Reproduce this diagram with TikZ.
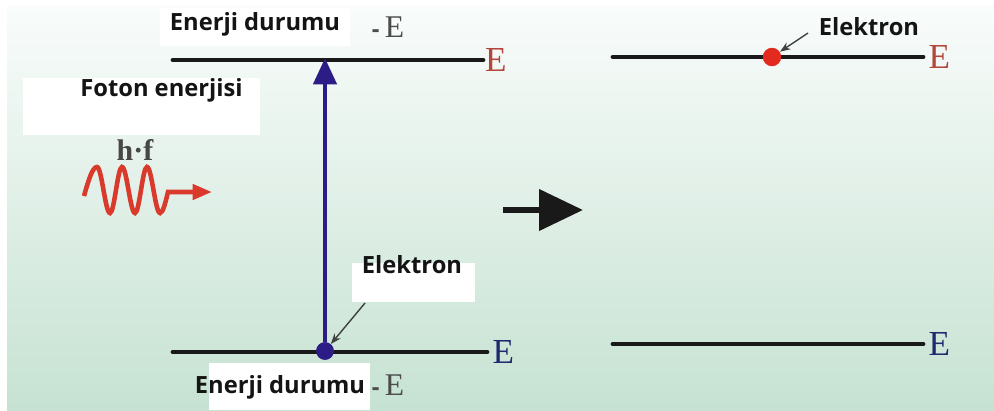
\documentclass[tikz,border=0pt]{standalone}
\usepackage{fontspec}
\setmainfont{Liberation Serif}
\newfontfamily\labelfont{Open Sans}
\usepackage{tikz}
\usetikzlibrary{arrows.meta,positioning}
\definecolor{bgtop}{HTML}{F9FCFB}
\definecolor{bgmid}{HTML}{E2F1E9}
\definecolor{bgbot}{HTML}{C6E2D2}
\definecolor{levred}{HTML}{B5473A}
\definecolor{dotred}{HTML}{E22A1F}
\definecolor{wavered}{HTML}{D93A2B}
\definecolor{navy}{HTML}{2C1C86}
\definecolor{levblue}{HTML}{1F2A6E}

\tikzset{
  level/.style={line width=2.8pt,black!90,line cap=round},
  lbl/.style={font=\labelfont\bfseries\fontsize{13.5}{15}\selectfont,text=black!92,inner sep=0pt},
  elbl/.style={font=\fontsize{20}{22}\selectfont,inner sep=0pt,anchor=west},
  dashlbl/.style={font=\fontsize{18}{20}\selectfont,text=black!70,inner sep=0pt},
  wbox/.style={fill=white,draw=none,inner sep=0pt},
  pointer/.style={-{Stealth[length=6pt,width=4.5pt]},black!75,line width=0.8pt}
}

\begin{document}
\begin{tikzpicture}[x=0.02cm,y=-0.02cm]
  \useasboundingbox (0,0) rectangle (994,410);
  \fill[white] (0,0) rectangle (994,410);
  \shade[top color=bgtop,middle color=bgmid,bottom color=bgbot] (7,5) rectangle (994,410);
  % white label boxes
  \node[wbox,minimum width=3.8cm,minimum height=0.76cm] (entopbox) at (255,27) {};
  \node[wbox,minimum width=4.74cm,minimum height=1.14cm] (fotonbox) at (141.5,106.5) {};
  \node[wbox,minimum width=2.46cm,minimum height=0.78cm] (elekbox) at (413.5,282.5) {};
  \node[wbox,minimum width=3.22cm,minimum height=0.94cm] (enbotbox) at (289.5,386.5) {};
  % energy levels, before
  \coordinate (tlL) at (173,60);
  \coordinate (tlR) at (483,60);
  \coordinate (blL) at (173,352);
  \coordinate (blR) at (487,352);
  \draw[level] (tlL) -- (tlR);
  \draw[level] (blL) -- (blR);
  \node[elbl,text=levred,right=1pt of tlR] (tlE) {E};
  \node[elbl,text=levblue,right=3pt of blR] (blE) {E};
  % energy levels, after
  \coordinate (trL) at (613,57);
  \coordinate (trR) at (923,57);
  \coordinate (brL) at (613,344);
  \coordinate (brR) at (923,344);
  \draw[level] (trL) -- (trR);
  \draw[level] (brL) -- (brR);
  \node[elbl,text=levred,right=3pt of trR] (trE) {E};
  \node[elbl,text=levblue,right=3pt of brR] (brE) {E};
  % labels
  \node[lbl] (entop) at (255,24) {Enerji durumu};
  \node[dashlbl] (dtop) at (388,27) {{\labelfont\bfseries\fontsize{13.5}{15}\selectfont -}\,E};
  \node[lbl] (foton) at (161.5,90) {Foton enerjisi};
  \node[font=\bfseries\fontsize{17}{19}\selectfont,text=black!72,inner sep=0pt] (hf) at (135,150) {h·f};
  \node[lbl] (elek) at (412,265) {Elektron};
  \node[lbl] (enbot) at (280,387) {Enerji durumu};
  \node[dashlbl] (dbot) at (388,385) {{\labelfont\bfseries\fontsize{13.5}{15}\selectfont -}\,E};
  \node[lbl] (elekr) at (869,27) {Elektron};
  % excitation
  \coordinate (tlmid) at (325,58);
  \node[circle,fill=navy,minimum size=10pt,inner sep=0pt] (edot) at (325,351) {};
  \draw[navy,line width=2.8pt,-{Triangle[length=15pt,width=13pt]}] (edot) -- (tlmid);
  \fill[navy] (edot) circle (5pt);
  \node[circle,fill=dotred,minimum size=10.5pt,inner sep=0pt] (rdot) at (772,57) {};
  % pointers
  \coordinate (p1) at (365,303);
  \coordinate (p2) at (808,33);
  \draw[pointer] (p1) -- (edot);
  \draw[pointer] (p2) -- (rdot);
  % photon
  \draw[wavered,line width=2.6pt,-{Triangle[length=11pt,width=8.5pt]}]
    (84,196) sin (97,167) cos (103.5,190) sin (110,213) cos (116,190)
    sin (122,167) cos (128.5,190) sin (135,213) cos (141,190)
    sin (147,167) cos (153.5,190) sin (160,213) cos (168,192) -- (212,192);
  % transition
  \coordinate (mA) at (503,210);
  \coordinate (mB) at (583,210);
  \draw[black!90,line width=3.4pt,-{Triangle[length=25pt,width=23pt]}] (mA) -- (mB);
\end{tikzpicture}
\end{document}
